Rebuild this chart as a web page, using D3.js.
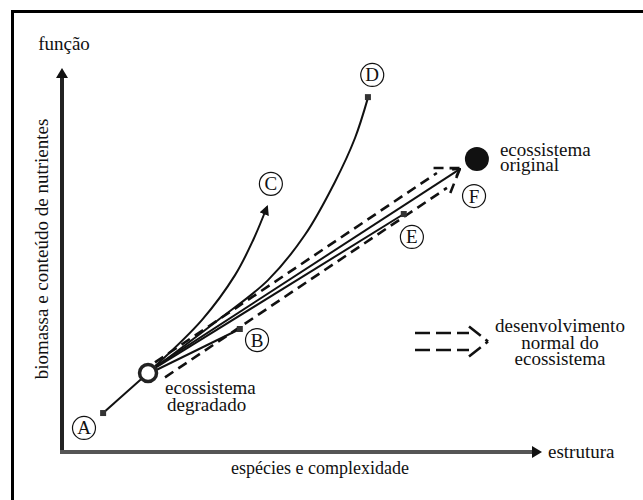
<!DOCTYPE html>
<html>
  <head>
    <style>
      body,
      html {
        margin: 0;
        padding: 0;
        background: #fff;
      }
      svg text {
        font-family: 'Liberation Serif', 'DejaVu Serif', serif;
        fill: #111;
      }
    </style>
  </head>
  <body>
    <svg id="svg" width="643" height="500"></svg>
    <script src="https://cdn.jsdelivr.net/npm/d3@7"></script>
    <script>
      // stages, in abstract units (0-100) of structure (x) and function (y)
      const stageNames = ['A', 'B', 'C', 'D', 'E', 'F'];
      const stageLabelX = [4.6, 40.8, 43.7, 64.9, 73.2, 86.2];
      const stageLabelY = [6.3, 29.3, 70.2, 98.7, 56.3, 67.0];

      const markerNames = ['A', 'B', 'D', 'E'];
      const markerX = [8.6, 37.2, 64.0, 71.5];
      const markerY = [10.2, 32.2, 92.9, 62.3];

      const degraded = [18.0, 20.7];
      const original = [86.8, 76.7];

      // recovery trajectories
      const pathC = [[19.5, 22.5], [29.3, 34.6], [36.2, 46.3], [40.0, 55.5], [42.9, 64.2]];
      const pathD = [[19.9, 22.5], [32.4, 34.3], [43.1, 45.0], [50.8, 56.8], [57.1, 70.7], [61.3, 82.2], [64.0, 92.7]];
      const straightPaths = [
        { from: [8.6, 10.2], to: [18.0, 20.7], arrow: false },
        { from: [19.3, 21.2], to: [37.2, 32.2], arrow: false },
        { from: [19.5, 22.0], to: [71.5, 62.3], arrow: false },
        { from: [19.7, 22.5], to: [83.3, 74.1], arrow: true },
      ];
      const normalPath = [[20.5, 21.5], [83.3, 74.3]];

      const yTitle = 'biomassa e conteúdo de nutrientes';
      const xTitle = 'espécies e complexidade';
      const yEnd = 'função';
      const xEnd = 'estrutura';
      const degradedLabel = ['ecossistema', 'degradado'];
      const originalLabel = ['ecossistema', 'original'];
      const legendLabel = ['desenvolvimento', 'normal do', 'ecossistema'];

      const svg = d3.select('#svg');
      const xScale = d3.scaleLinear().domain([0, 100]).range([62, 540]);
      const yScale = d3.scaleLinear().domain([0, 100]).range([452, 70]);
      const fs = 19;
      const serif = "'Liberation Serif', 'DejaVu Serif', serif";

      const defs = svg.append('defs');
      defs
        .append('marker')
        .attr('id', 'solidHead')
        .attr('viewBox', '0 0 10 10')
        .attr('refX', 8)
        .attr('refY', 5)
        .attr('markerWidth', 10)
        .attr('markerHeight', 10)
        .attr('markerUnits', 'userSpaceOnUse')
        .attr('orient', 'auto')
        .append('path')
        .attr('d', 'M0,0 L10,5 L0,10 Z')
        .attr('fill', '#111');
      defs
        .append('marker')
        .attr('id', 'openHead')
        .attr('viewBox', '0 0 10 10')
        .attr('refX', 9)
        .attr('refY', 5)
        .attr('markerWidth', 9)
        .attr('markerHeight', 9)
        .attr('markerUnits', 'userSpaceOnUse')
        .attr('orient', 'auto')
        .append('path')
        .attr('d', 'M1,1 L9,5 L1,9')
        .attr('fill', 'none')
        .attr('stroke', '#111')
        .attr('stroke-width', 2);

      // frame
      svg
        .append('rect')
        .attr('x', 12.5)
        .attr('y', 11.5)
        .attr('width', 700)
        .attr('height', 600)
        .attr('fill', 'none')
        .attr('stroke', '#000')
        .attr('stroke-width', 3);

      // axes
      svg
        .append('line')
        .attr('x1', xScale(0))
        .attr('y1', yScale(0))
        .attr('x2', xScale(0))
        .attr('y2', yScale(100) + 4)
        .attr('stroke', '#222')
        .attr('stroke-width', 4);
      svg
        .append('path')
        .attr('d', d3.line()([[xScale(0) - 6, yScale(100) + 8], [xScale(0), yScale(100) - 2], [xScale(0) + 6, yScale(100) + 8]]))
        .attr('fill', '#111');
      svg
        .append('line')
        .attr('x1', xScale(0) - 2)
        .attr('y1', yScale(0))
        .attr('x2', xScale(100) - 4)
        .attr('y2', yScale(0))
        .attr('stroke', '#555')
        .attr('stroke-width', 4);
      svg
        .append('path')
        .attr('d', d3.line()([[xScale(100) - 8, yScale(0) - 6], [xScale(100) + 2, yScale(0)], [xScale(100) - 8, yScale(0) + 6]]))
        .attr('fill', '#111');

      const addText = (x, y, str, size, anchor) =>
        svg
          .append('text')
          .attr('x', x)
          .attr('y', y)
          .attr('text-anchor', anchor || 'start')
          .attr('font-family', serif)
          .attr('font-size', size)
          .text(str);

      addText(xScale(0) + 2, 50, yEnd, fs, 'middle');
      addText(xScale(100) + 8, yScale(0) + 6, xEnd, fs);
      addText(320, 474, xTitle, 18, 'middle');
      svg
        .append('text')
        .attr('transform', 'translate(48,249) rotate(-90)')
        .attr('text-anchor', 'middle')
        .attr('font-family', serif)
        .attr('font-size', fs)
        .text(yTitle);

      const line = d3
        .line()
        .x((d) => xScale(d[0]))
        .y((d) => yScale(d[1]));

      // normal development: hollow dashed arrow
      const drawHollowArrow = (g, p0, p1, half, back, wing, dash) => {
        const dx = p1[0] - p0[0];
        const dy = p1[1] - p0[1];
        const len = Math.hypot(dx, dy);
        const ux = dx / len;
        const uy = dy / len;
        const nx = -uy;
        const ny = ux;
        const ex = p1[0] - ux * back;
        const ey = p1[1] - uy * back;
        [-1, 1].forEach((s) => {
          g.append('path')
            .attr('d', d3.line()([[p0[0] + nx * half * s, p0[1] + ny * half * s], [ex + nx * half * s, ey + ny * half * s]]))
            .attr('stroke', '#111')
            .attr('stroke-width', 2.6)
            .attr('stroke-dasharray', dash)
            .attr('fill', 'none');
          g.append('path')
            .attr('d', d3.line()([[ex + nx * wing * s, ey + ny * wing * s], p1]))
            .attr('stroke', '#111')
            .attr('stroke-width', 2.6)
            .attr('stroke-dasharray', dash)
            .attr('fill', 'none');
        });
      };

      drawHollowArrow(
        svg.append('g'),
        [xScale(normalPath[0][0]), yScale(normalPath[0][1])],
        [xScale(normalPath[1][0]), yScale(normalPath[1][1])],
        9,
        22,
        15,
        '10,6'
      );

      // solid trajectories
      svg
        .append('g')
        .selectAll('path')
        .data(straightPaths)
        .enter()
        .append('path')
        .attr('d', (d) => line([d.from, d.to]))
        .attr('stroke', '#111')
        .attr('stroke-width', 2)
        .attr('fill', 'none')
        .attr('marker-end', (d) => (d.arrow ? 'url(#openHead)' : null));

      const curve = d3
        .line()
        .x((d) => xScale(d[0]))
        .y((d) => yScale(d[1]))
        .curve(d3.curveCatmullRom);

      svg
        .append('path')
        .attr('d', curve(pathC))
        .attr('stroke', '#111')
        .attr('stroke-width', 2)
        .attr('fill', 'none')
        .attr('marker-end', 'url(#solidHead)');
      svg
        .append('path')
        .attr('d', curve(pathD))
        .attr('stroke', '#111')
        .attr('stroke-width', 2)
        .attr('fill', 'none');

      // end markers
      svg
        .append('g')
        .selectAll('rect')
        .data(markerNames)
        .enter()
        .append('rect')
        .attr('x', (d, i) => xScale(markerX[i]) - 3)
        .attr('y', (d, i) => yScale(markerY[i]) - 3)
        .attr('width', 6)
        .attr('height', 6)
        .attr('fill', '#333');

      // ecosystems
      svg
        .append('circle')
        .attr('cx', xScale(degraded[0]))
        .attr('cy', yScale(degraded[1]))
        .attr('r', 8.5)
        .attr('fill', '#fff')
        .attr('stroke', '#222')
        .attr('stroke-width', 3.5);
      svg
        .append('circle')
        .attr('cx', xScale(original[0]))
        .attr('cy', yScale(original[1]))
        .attr('r', 12)
        .attr('fill', '#111');

      const multiLine = (lines, x, y, gap, anchor, dxs) => {
        const t = svg
          .append('text')
          .attr('x', x)
          .attr('y', y)
          .attr('text-anchor', anchor)
          .attr('font-family', serif)
          .attr('font-size', fs);
        lines.forEach((s, i) =>
          t
            .append('tspan')
            .attr('x', x + (dxs ? dxs[i] : 0))
            .attr('dy', i === 0 ? 0 : gap)
            .text(s)
        );
      };

      multiLine(degradedLabel, xScale(degraded[0]) + 17, yScale(degraded[1]) + 21, 17, 'start', [0, 2]);
      multiLine(originalLabel, xScale(original[0]) + 23, yScale(original[1]) - 3, 15, 'start');

      // circled stage letters
      const stages = svg
        .append('g')
        .selectAll('g')
        .data(stageNames)
        .enter()
        .append('g')
        .attr('transform', (d, i) => `translate(${xScale(stageLabelX[i])},${yScale(stageLabelY[i])})`);
      stages
        .append('circle')
        .attr('r', 11.5)
        .attr('fill', '#fff')
        .attr('stroke', '#111')
        .attr('stroke-width', 1.2);
      stages
        .append('text')
        .attr('text-anchor', 'middle')
        .attr('y', 6.5)
        .attr('font-family', serif)
        .attr('font-size', 19)
        .text((d) => d);

      // legend
      drawHollowArrow(svg.append('g'), [415, 341.5], [488, 341.5], 8.5, 19, 15, '15,6');
      multiLine(legendLabel, 560, 332, 16.5, 'middle');
    </script>
  </body>
</html>
